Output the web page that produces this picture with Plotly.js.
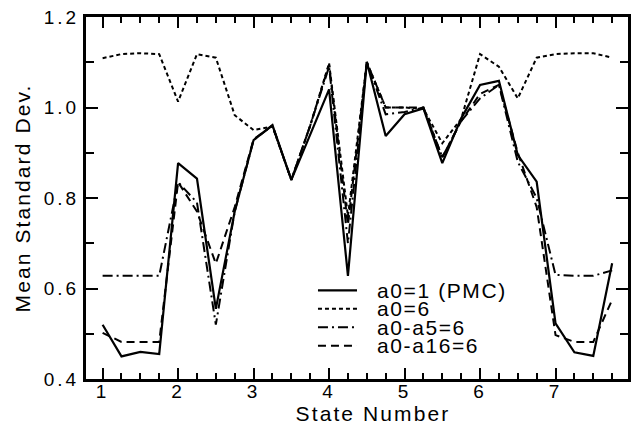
<!DOCTYPE html>
<html>
<head>
<meta charset="utf-8">
<script src="https://cdn.plot.ly/plotly-3.0.1.min.js"></script>
<style>
  html, body { margin: 0; padding: 0; background: #fff; }
  #chart { width: 635px; height: 425px; }
  .xtick text, .ytick text { letter-spacing: 3px; }
  text.xtitle, text.ytitle { letter-spacing: 2.1px; }
  text.xtitle { transform: translate(16px, 0px); }
  .annotation-text-g text { letter-spacing: 1.6px; }
</style>
</head>
<body>
<div id="chart"></div>
<script>
// State numbers (x positions of the samples)
const stateNumber = [1, 1.25, 1.5, 1.75, 2, 2.25, 2.5, 2.75, 3, 3.25, 3.5, 3.75, 4, 4.25,
                     4.5, 4.75, 5, 5.25, 5.5, 5.75, 6, 6.25, 6.5, 6.75, 7, 7.25, 7.5, 7.75];

// a0=1 (PMC) - solid
const pmc = [0.520, 0.450, 0.460, 0.455, 0.877, 0.843, 0.555, 0.770, 0.928, 0.961, 0.840, 0.940, 1.040, 0.628,
             1.101, 0.937, 0.985, 0.998, 0.877, 0.976, 1.050, 1.059, 0.895, 0.836, 0.523, 0.459, 0.451, 0.656];

// a0=6 - dotted
const a0six = [1.109, 1.118, 1.120, 1.118, 1.013, 1.118, 1.110, 0.983, 0.950, 0.958, 0.840, 0.960, 1.098, 0.760,
               1.100, 1.000, 1.000, 0.997, 0.921, 0.975, 1.118, 1.090, 1.020, 1.110, 1.118, 1.120, 1.120, 1.110];

// a0-a5=6 - dash-dot
const a0a5 = [0.628, 0.628, 0.628, 0.628, 0.835, 0.790, 0.520, 0.770, 0.928, 0.960, 0.840, 0.960, 1.090, 0.700,
              1.100, 0.985, 0.990, 1.000, 0.890, 0.970, 1.020, 1.050, 0.880, 0.800, 0.630, 0.628, 0.628, 0.640];

// a0-a16=6 - dashed
const a0a16 = [0.502, 0.482, 0.482, 0.482, 0.835, 0.770, 0.655, 0.780, 0.930, 0.960, 0.840, 0.960, 1.095, 0.740,
               1.100, 1.000, 1.000, 1.000, 0.890, 0.970, 1.030, 1.050, 0.900, 0.780, 0.497, 0.482, 0.482, 0.575];

const seriesNames = ['a0=1 (PMC)', 'a0=6', 'a0-a5=6', 'a0-a16=6'];
const seriesData = [pmc, a0six, a0a5, a0a16];
const seriesDash = ['solid', '4px,3px', '10px,4px,2px,4px', '8px,5px'];
const seriesWidth = [2.2, 2, 2, 2];

const xTicks = [1, 2, 3, 4, 5, 6, 7];
const yTicks = [0.4, 0.6, 0.8, 1.0, 1.2];

const traces = seriesData.map((ys, i) => ({
  x: stateNumber,
  y: ys,
  type: 'scatter',
  mode: 'lines',
  name: seriesNames[i],
  line: { color: '#000', width: seriesWidth[i], dash: seriesDash[i] },
  showlegend: false
}));

// Legend drawn manually (tight line spacing like the reference)
const legRowY = [0.245, 0.194, 0.143, 0.092];
const legShapes = legRowY.map((yy, i) => ({
  type: 'line', xref: 'paper', yref: 'paper',
  x0: 0.428, x1: 0.500, y0: yy, y1: yy,
  line: { color: '#000', width: seriesWidth[i], dash: seriesDash[i] }
}));
const legAnn = legRowY.map((yy, i) => ({
  xref: 'paper', yref: 'paper', x: 0.534, y: yy,
  xanchor: 'left', yanchor: 'middle', align: 'left', showarrow: false,
  text: seriesNames[i],
  font: { family: 'Liberation Sans, Arial, sans-serif', size: 21, color: '#000' }
}));

const fontFam = 'Liberation Sans, Arial, Helvetica, sans-serif';

const layout = {
  width: 635, height: 425,
  margin: { l: 86, r: 7, t: 17, b: 46 },
  paper_bgcolor: '#fff', plot_bgcolor: '#fff',
  font: { family: fontFam, color: '#000' },
  showlegend: false,
  xaxis: {
    range: [0.78, 7.96],
    tickvals: xTicks,
    ticktext: xTicks.map(String),
    ticks: 'inside', ticklen: 11, tickwidth: 2, tickcolor: '#000',
    minor: { ticks: 'inside', dtick: 0.25, tick0: 1, ticklen: 6, tickwidth: 2, tickcolor: '#000' },
    showline: true, linewidth: 3, linecolor: '#000', mirror: 'ticks',
    showgrid: false, zeroline: false,
    ticklabelstandoff: -7,
    tickfont: { family: fontFam, size: 19, color: '#000' },
    title: { text: 'State Number', font: { family: fontFam, size: 21, color: '#000' }, standoff: 2 }
  },
  yaxis: {
    range: [0.4, 1.2],
    tickvals: yTicks,
    ticktext: yTicks.map(v => v.toFixed(1)),
    ticks: 'inside', ticklen: 12, tickwidth: 2, tickcolor: '#000',
    minor: { ticks: 'inside', dtick: 0.1, tick0: 0.4, ticklen: 8, tickwidth: 2, tickcolor: '#000' },
    showline: true, linewidth: 3, linecolor: '#000', mirror: 'ticks',
    showgrid: false, zeroline: false,
    tickfont: { family: fontFam, size: 19, color: '#000' },
    title: { text: 'Mean Standard Dev.', font: { family: fontFam, size: 21, color: '#000' }, standoff: 8 }
  },
  shapes: legShapes,
  annotations: legAnn
};

Plotly.newPlot('chart', traces, layout, { staticPlot: true, displayModeBar: false });
</script>
</body>
</html>
